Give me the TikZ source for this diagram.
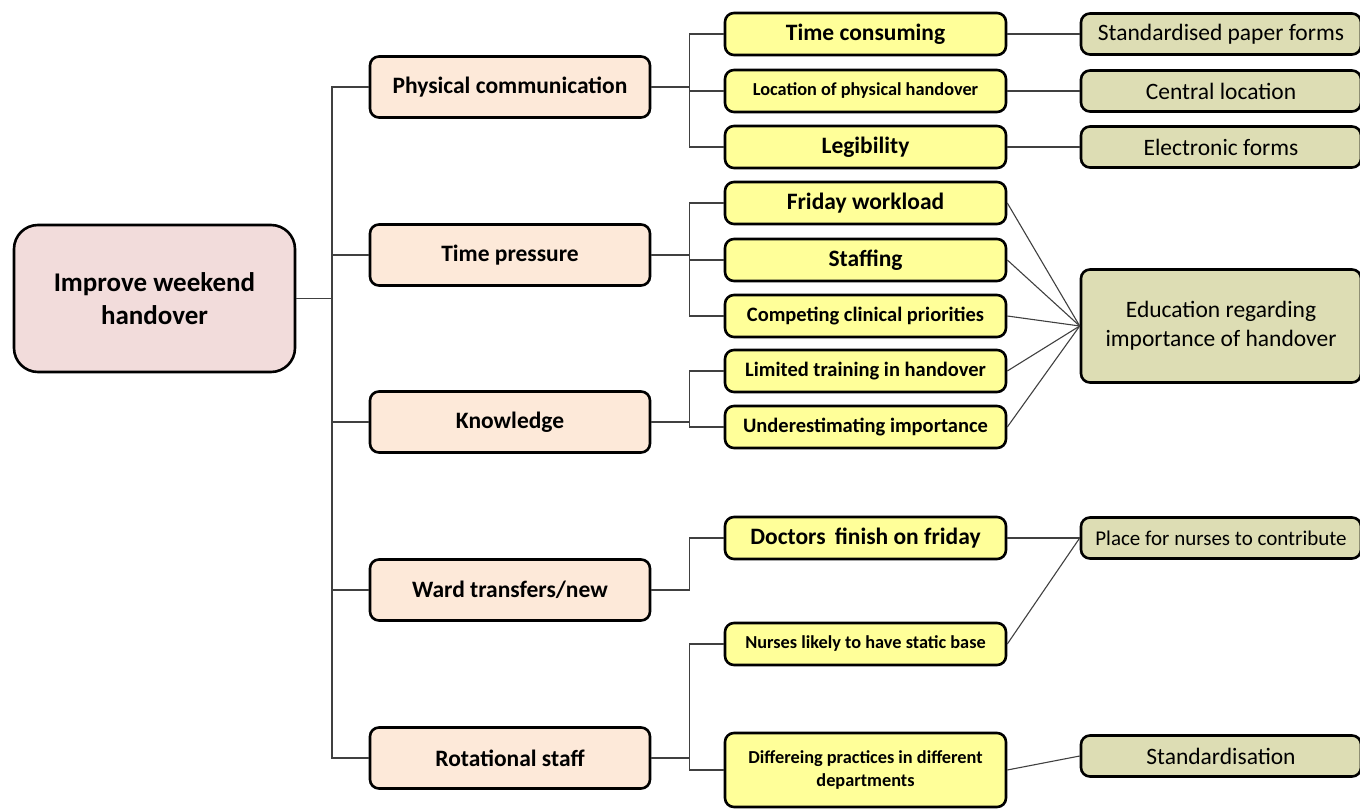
\documentclass[tikz,border=0pt]{standalone}
\usepackage{fontspec}
\setmainfont{Carlito}
\usetikzlibrary{positioning}
\definecolor{rootpink}{HTML}{F2DCDB}
\definecolor{peach}{HTML}{FDE9D9}
\definecolor{paleyellow}{HTML}{FFFF99}
\definecolor{olive}{HTML}{DDDDB4}

\begin{document}
\begin{tikzpicture}[x=1pt,y=-1pt,
    box/.style={draw=black, line width=2.6pt, rounded corners=9pt, inner sep=2pt, align=center},
    rootbox/.style={box, fill=rootpink, rounded corners=24pt, minimum width=281pt, minimum height=147pt,
      font=\fontsize{27}{33}\selectfont\bfseries},
    mainbox/.style={box, fill=peach, minimum width=280pt, minimum height=61pt,
      font=\fontsize{23.5}{27}\selectfont\bfseries},
    subbox/.style={box, fill=paleyellow, minimum width=281pt, minimum height=42pt,
      font=\fontsize{23.5}{27}\selectfont\bfseries},
    smallsub/.style={subbox, font=\fontsize{20.5}{24}\selectfont\bfseries},
    tinysub/.style={subbox, font=\fontsize{18.3}{23}\selectfont\bfseries},
    actionbox/.style={box, fill=olive, minimum width=280pt, minimum height=41pt,
      font=\fontsize{23.5}{29}\selectfont},
    link/.style={draw=black!75, line width=1.1pt}]
  \useasboundingbox (0,0) rectangle (1360,810);

  % root and main causes
  \node[rootbox] (root) at (154.5,298.5) {Improve weekend\\handover};
  \node[mainbox] (pc) at (510,87) {Physical communication};
  \node[mainbox] (tp) at (510,255) {Time pressure};
  \node[mainbox] (kn) at (510,422) {Knowledge};
  \node[mainbox] (wt) at (510,590) {Ward transfers/new};
  \node[mainbox] (rs) at (510,758) {Rotational staff};

  % sub causes
  \node[subbox] (tc) at (865.5,34) {Time consuming};
  \node[tinysub] (lp) at (865.5,91) {Location of physical handover};
  \node[subbox] (lg) at (865.5,147) {Legibility};
  \node[subbox] (fw) at (865.5,203) {Friday workload};
  \node[subbox] (st) at (865.5,260) {Staffing};
  \node[smallsub] (cc) at (865.5,316) {Competing clinical priorities};
  \node[smallsub] (lt) at (865.5,371) {Limited training in handover};
  \node[smallsub] (ui) at (865.5,427) {Underestimating importance};
  \node[subbox] (df) at (865.5,538) {Doctors\, finish on friday};
  \node[tinysub] (nl) at (865.5,644) {Nurses likely to have static base};
  \node[tinysub, minimum height=74pt] (dp) at (865.5,770) {Differeing practices in different\\departments};

  % actions
  \node[actionbox] (sp) at (1221,34) {Standardised paper forms};
  \node[actionbox] (cl) at (1221,91) {Central location};
  \node[actionbox] (ef) at (1221,147) {Electronic forms};
  \node[actionbox, minimum height=113pt] (ed) at (1221,326) {Education regarding\\importance of handover};
  \node[actionbox, font=\fontsize{21}{25}\selectfont] (pn) at (1221,538) {Place for nurses to contribute};
  \node[actionbox] (sd) at (1221,756) {Standardisation};

  % connectors
  \coordinate (trunk) at (332,298.5);
  \draw[link] (root.east) -- (trunk);
  \foreach \m in {pc,tp,kn,wt,rs}
    \draw[link] (trunk) |- (\m.west);
  \foreach \m/\s in {pc/tc,pc/lp,pc/lg,tp/fw,tp/st,tp/cc,kn/lt,kn/ui,wt/df,rs/nl,rs/dp}
    \draw[link] (\m.east) -- ++(38,0) |- (\s.west);
  \foreach \s/\a in {tc/sp,lp/cl,lg/ef,fw/ed,st/ed,cc/ed,lt/ed,ui/ed,df/pn,nl/pn,dp/sd}
    \draw[link] (\s.east) -- (\a.west);
\end{tikzpicture}
\end{document}
